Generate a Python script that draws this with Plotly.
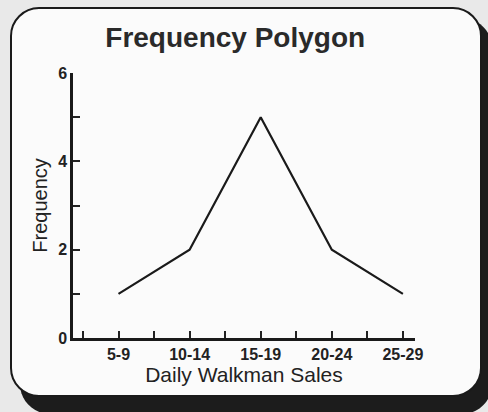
import plotly.graph_objects as go

categories = ["5-9", "10-14", "15-19", "20-24", "25-29"]
frequency = [1, 2, 5, 2, 1]
y_tick_vals = [0, 1, 2, 3, 4, 5, 6]
y_tick_text = ["0", "", "2", "", "4", "", "6"]

W, H = 488, 412
L, R, T, B = 73, 73, 73, 74
PW, PH = W - L - R, H - T - B

def px(x):
    return (x - L) / PW

def py(y):
    return (H - B - y) / PH

def rounded(x0, y0, x1, y1, r):
    k = 0.45
    s = f"M{px(x0 + r)},{py(y0)} L{px(x1 - r)},{py(y0)} "
    s += f"C{px(x1 - r * k)},{py(y0)} {px(x1)},{py(y0 + r * k)} {px(x1)},{py(y0 + r)} "
    s += f"L{px(x1)},{py(y1 - r)} "
    s += f"C{px(x1)},{py(y1 - r * k)} {px(x1 - r * k)},{py(y1)} {px(x1 - r)},{py(y1)} "
    s += f"L{px(x0 + r)},{py(y1)} "
    s += f"C{px(x0 + r * k)},{py(y1)} {px(x0)},{py(y1 - r * k)} {px(x0)},{py(y1 - r)} "
    s += f"L{px(x0)},{py(y0 + r)} "
    s += f"C{px(x0)},{py(y0 + r * k)} {px(x0 + r * k)},{py(y0)} {px(x0 + r)},{py(y0)} Z"
    return s

x_pos = list(range(1, len(categories) + 1))
x_ticks = [i * 0.5 for i in range(1, 11)]
x_text = [f"<b>{categories[int(v) - 1]}</b>" if v == int(v) else "" for v in x_ticks]
y_text = [f"<b>{t}</b>" if t else "" for t in y_tick_text]

fig = go.Figure()
fig.add_trace(go.Scatter(x=x_pos, y=frequency, mode="lines",
                         line=dict(color="#1a1a1a", width=2.2), hoverinfo="skip"))

font = "Liberation Sans, Arial, sans-serif"
fig.update_layout(
    width=W, height=H,
    margin=dict(l=L, r=R, t=T, b=B),
    paper_bgcolor="#e9e9e9",
    plot_bgcolor="rgba(0,0,0,0)",
    showlegend=False,
    font=dict(family=font, color="#222"),
    title=dict(text="<b>Frequency Polygon</b>", x=0.482, xanchor="center", y=1 - 37 / H, yanchor="middle",
               font=dict(size=28, color="#2a2a2a", family=font)),
    xaxis=dict(range=[0.36, 5.17], tickvals=x_ticks, ticktext=x_text, ticks="inside",
               ticklen=7, tickwidth=1.5, tickcolor="#222", showline=True, linecolor="#1a1a1a",
               linewidth=2.5, showgrid=False, zeroline=False, tickfont=dict(size=16, color="#222"),
               title=dict(text="Daily Walkman Sales", font=dict(size=21, color="#222"), standoff=4)),
    yaxis=dict(range=[0, 6], tickvals=y_tick_vals, ticktext=y_text, ticks="inside",
               ticklen=7, tickwidth=1.5, tickcolor="#222", showline=True, linecolor="#1a1a1a",
               linewidth=2.5, showgrid=False, zeroline=False, tickfont=dict(size=16, color="#222"),
               title=dict(text="Frequency", font=dict(size=20, color="#222"), standoff=6)),
    shapes=[
        dict(type="path", xref="paper", yref="paper", path=rounded(20, 18, 492, 414, 30),
             fillcolor="#1c1c1c", line=dict(width=0), layer="below"),
        dict(type="path", xref="paper", yref="paper", path=rounded(11, 8, 481, 396, 28),
             fillcolor="#fbfbfb", line=dict(color="#1a1a1a", width=2), layer="below"),
    ],
)

fig.write_html("out.html", config={"displayModeBar": False},
               post_script="document.body.style.margin='0';document.body.style.overflow='hidden';")
